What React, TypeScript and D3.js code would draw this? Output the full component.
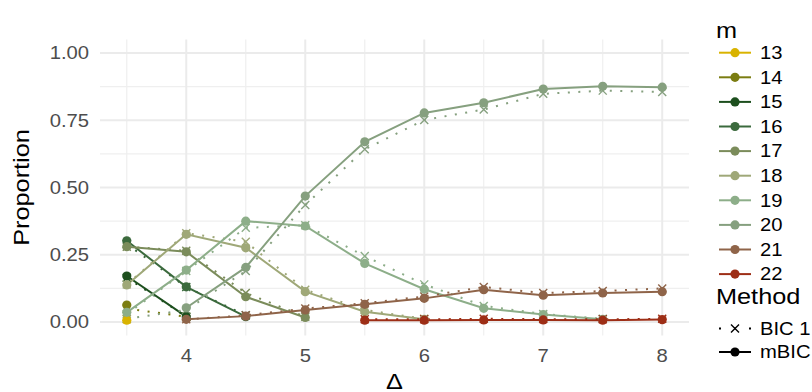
import React from "react";
import * as d3 from "d3";

// Simulation summary: proportion of runs selecting each number of change points m
const delta = [3.5, 4, 4.5, 5, 5.5, 6, 6.5, 7, 7.5, 8];
const mLevels = ["13", "14", "15", "16", "17", "18", "19", "20", "21", "22"];
const mColors = ["#D9B300", "#7B7D12", "#1D4F1E", "#3B6A3D", "#7B8C5B", "#9FA878", "#8DAE89", "#86A07F", "#8F6449", "#9D2E16"];

type Row = (number | null)[];

// mBIC proportions, one row per m (null = m never selected at that Δ)
const mbic13: Row = [0.007, null, null, null, null, null, null, null, null, null];
const mbic14: Row = [0.063, null, null, null, null, null, null, null, null, null];
const mbic15: Row = [0.171, 0.02, null, null, null, null, null, null, null, null];
const mbic16: Row = [0.302, 0.131, 0.02, null, null, null, null, null, null, null];
const mbic17: Row = [0.28, 0.261, 0.094, 0.017, null, null, null, null, null, null];
const mbic18: Row = [0.138, 0.326, 0.276, 0.113, 0.038, 0.01, null, null, null, null];
const mbic19: Row = [0.036, 0.193, 0.375, 0.357, 0.218, 0.122, 0.051, 0.028, 0.01, null];
const mbic20: Row = [null, 0.053, 0.203, 0.468, 0.67, 0.777, 0.815, 0.866, 0.876, 0.873];
const mbic21: Row = [null, 0.01, 0.022, 0.045, 0.066, 0.088, 0.12, 0.1, 0.108, 0.113];
const mbic22: Row = [null, null, null, null, 0.007, 0.007, 0.008, 0.008, 0.007, 0.009];

// BIC 1 proportions
const bic13: Row = [0.01, null, null, null, null, null, null, null, null, null];
const bic14: Row = [0.05, 0.02, null, null, null, null, null, null, null, null];
const bic15: Row = [0.165, 0.02, null, null, null, null, null, null, null, null];
const bic16: Row = [0.29, 0.13, 0.025, null, null, null, null, null, null, null];
const bic17: Row = [0.28, 0.265, 0.108, 0.02, null, null, null, null, null, null];
const bic18: Row = [0.14, 0.33, 0.298, 0.12, 0.045, 0.012, null, null, null, null];
const bic19: Row = [0.03, 0.19, 0.35, 0.36, 0.245, 0.14, 0.06, 0.03, 0.012, null];
const bic20: Row = [0.012, 0.045, 0.19, 0.435, 0.642, 0.751, 0.79, 0.848, 0.86, 0.855];
const bic21: Row = [null, 0.01, 0.025, 0.05, 0.07, 0.095, 0.13, 0.108, 0.115, 0.125];
const bic22: Row = [null, null, null, null, 0.01, 0.01, 0.012, 0.011, 0.01, 0.012];

const mbicRows = [mbic13, mbic14, mbic15, mbic16, mbic17, mbic18, mbic19, mbic20, mbic21, mbic22];
const bicRows = [bic13, bic14, bic15, bic16, bic17, bic18, bic19, bic20, bic21, bic22];

const xTicks = [4, 5, 6, 7, 8];
const xMinor = [3.5, 4.5, 5.5, 6.5, 7.5];
const yTicks = [0, 0.25, 0.5, 0.75, 1];
const yMinor = [0.125, 0.375, 0.625, 0.875];
const methodLabels = ["BIC 1", "mBIC"];

const W = 812;
const H = 392;
const panel = { left: 100, right: 689, top: 39.5, bottom: 335.5 };
const FONT = "'Liberation Sans', Arial, Helvetica, sans-serif";
const STRETCH = 1.15;

const xScale = d3.scaleLinear().domain([3.275, 8.225]).range([panel.left, panel.right]);
const yScale = d3.scaleLinear().domain([-0.05, 1.05]).range([panel.bottom, panel.top]);

function Txt(props: {
  x: number; y: number; children: React.ReactNode; size: number;
  anchor?: "start" | "middle" | "end"; fill?: string; rotate?: number;
}) {
  const { x, y, children, size, anchor = "start", fill = "#000", rotate = 0 } = props;
  return (
    <text
      transform={`translate(${x},${y}) rotate(${rotate}) scale(${STRETCH},1)`}
      textAnchor={anchor}
      fontFamily={FONT}
      fontSize={size}
      fill={fill}
    >
      {children}
    </text>
  );
}

function Cross({ cx, cy, color, r = 4 }: { cx: number; cy: number; color: string; r?: number }) {
  return (
    <path
      d={`M${cx - r},${cy - r}L${cx + r},${cy + r}M${cx - r},${cy + r}L${cx + r},${cy - r}`}
      stroke={color}
      strokeWidth={1.4}
      fill="none"
    />
  );
}

export default function App() {
  const line = d3
    .line<[number, number | null]>()
    .defined((d) => d[1] !== null)
    .x((d) => xScale(d[0]))
    .y((d) => yScale(d[1] as number));

  const pairs = (row: Row) => delta.map((x, i) => [x, row[i]] as [number, number | null]);

  const legendX = 719;
  const legendStep = 24.6;
  const mLegendTop = 52.7;

  return (
    <svg width={W} height={H} style={{ position: "absolute", left: 0, top: 0 }}>
      <rect width={W} height={H} fill="#fff" />

      {/* grid */}
      {yMinor.map((v) => (
        <line key={`ym${v}`} x1={panel.left} x2={panel.right} y1={yScale(v)} y2={yScale(v)} stroke="#EFEFEF" strokeWidth={1.2} />
      ))}
      {xMinor.map((v) => (
        <line key={`xm${v}`} y1={panel.top} y2={panel.bottom} x1={xScale(v)} x2={xScale(v)} stroke="#EFEFEF" strokeWidth={1.2} />
      ))}
      {yTicks.map((v) => (
        <line key={`y${v}`} x1={panel.left} x2={panel.right} y1={yScale(v)} y2={yScale(v)} stroke="#EBEBEB" strokeWidth={2} />
      ))}
      {xTicks.map((v) => (
        <line key={`x${v}`} y1={panel.top} y2={panel.bottom} x1={xScale(v)} x2={xScale(v)} stroke="#EBEBEB" strokeWidth={2} />
      ))}

      {/* lines */}
      {mLevels.map((m, i) => (
        <g key={`l${m}`}>
          <path d={line(pairs(bicRows[i])) || ""} fill="none" stroke={mColors[i]} strokeWidth={2} strokeDasharray="2 8.5" />
          <path d={line(pairs(mbicRows[i])) || ""} fill="none" stroke={mColors[i]} strokeWidth={2} />
        </g>
      ))}

      {/* BIC 1 markers */}
      {mLevels.map((m, i) =>
        delta.map((x, j) =>
          bicRows[i][j] === null ? null : (
            <Cross key={`c${m}-${j}`} cx={xScale(x)} cy={yScale(bicRows[i][j] as number)} color={mColors[i]} />
          )
        )
      )}

      {/* mBIC markers */}
      {mLevels.map((m, i) =>
        delta.map((x, j) =>
          mbicRows[i][j] === null ? null : (
            <circle key={`p${m}-${j}`} cx={xScale(x)} cy={yScale(mbicRows[i][j] as number)} r={4.6} fill={mColors[i]} />
          )
        )
      )}

      {/* axes text */}
      {yTicks.map((v) => (
        <Txt key={`yt${v}`} x={89} y={yScale(v) + 6.3} size={17.6} anchor="end" fill="#4D4D4D">
          {v.toFixed(2)}
        </Txt>
      ))}
      {xTicks.map((v) => (
        <Txt key={`xt${v}`} x={xScale(v)} y={362} size={17.6} anchor="middle" fill="#4D4D4D">
          {String(v)}
        </Txt>
      ))}
      <Txt x={(panel.left + panel.right) / 2} y={389} size={22} anchor="middle">
        Δ
      </Txt>
      <Txt x={29} y={(panel.top + panel.bottom) / 2} size={22} anchor="middle" rotate={-90}>
        Proportion
      </Txt>

      {/* legend: m */}
      <Txt x={716} y={38} size={22}>m</Txt>
      {mLevels.map((m, i) => {
        const cy = mLegendTop + i * legendStep;
        return (
          <g key={`lg${m}`}>
            <line x1={legendX} x2={legendX + 32} y1={cy} y2={cy} stroke={mColors[i]} strokeWidth={2} />
            <circle cx={legendX + 16} cy={cy} r={4.6} fill={mColors[i]} />
            <Txt x={760} y={cy + 6.3} size={17.6}>{m}</Txt>
          </g>
        );
      })}

      {/* legend: Method */}
      <Txt x={716} y={304} size={22}>Method</Txt>
      <g>
        <line x1={legendX} x2={legendX + 32} y1={328.5} y2={328.5} stroke="#000" strokeWidth={2} strokeDasharray="2 13" />
        <Cross cx={legendX + 16} cy={328.5} color="#000" />
        <Txt x={760} y={328.5 + 6.3} size={17.6}>{methodLabels[0]}</Txt>
      </g>
      <g>
        <line x1={legendX} x2={legendX + 32} y1={352} y2={352} stroke="#000" strokeWidth={2} />
        <circle cx={legendX + 16} cy={352} r={4.6} fill="#000" />
        <Txt x={760} y={352 + 6.3} size={17.6}>{methodLabels[1]}</Txt>
      </g>
    </svg>
  );
}
